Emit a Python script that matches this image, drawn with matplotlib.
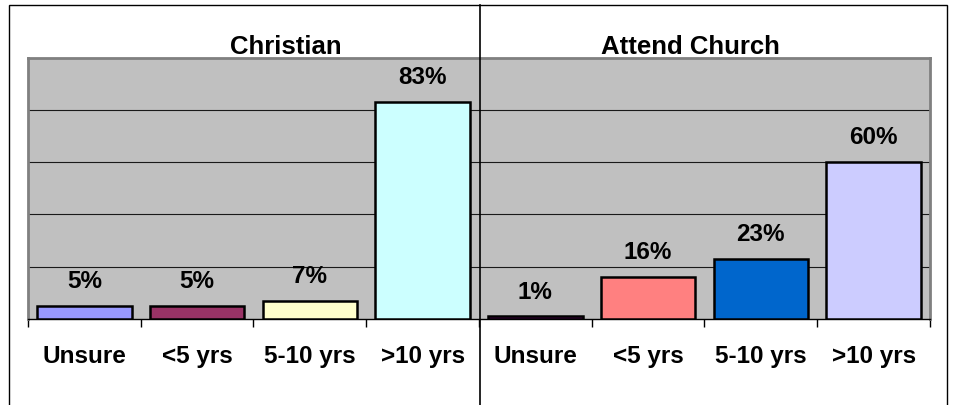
import matplotlib.pyplot as plt
from matplotlib.lines import Line2D
from matplotlib.patches import Rectangle

plt.rcParams['font.family'] = ['Liberation Sans', 'DejaVu Sans']

# data
groups = ['Christian', 'Attend Church']
categories = ['Unsure', '<5 yrs', '5-10 yrs', '>10 yrs']
christian = [5, 5, 7, 83]
attend = [1, 16, 23, 60]
colors = ['#9999FF', '#993366', '#FFFFCC', '#CCFFFF',
          '#660066', '#FF8080', '#0066CC', '#CCCCFF']

W, H = 954, 406
fig = plt.figure(figsize=(W / 100, H / 100), dpi=100)

# plot area in pixels: x 28..930, y 58.5..320
left, right, top, bottom = 28, 930, 58.5, 320
ax = fig.add_axes([left / W, 1 - bottom / H, (right - left) / W, (bottom - top) / H])
ax.set_facecolor('#C0C0C0')

values = christian + attend
labels = categories + categories
xs = list(range(len(values)))
ax.bar(xs, values, width=0.84, color=colors, edgecolor='black', linewidth=1.8, zorder=3)

for x, v in zip(xs, values):
    ax.annotate(f'{v}%', (x, v), xytext=(0, 13.5), textcoords='offset points',
                ha='center', va='baseline', fontsize=17.5, fontweight='bold')

ax.set_xlim(-0.5, len(values) - 0.5)
ax.set_ylim(0, 100)
ax.set_yticks([20, 40, 60, 80])
ax.yaxis.grid(True, color='#1a1a1a', linewidth=0.8, zorder=1)
ax.tick_params(axis='y', length=0, labelleft=False)

ax.set_xticks(xs)
ax.set_xticklabels(labels, fontsize=17.5, fontweight='bold')
ax.set_xticks([i - 0.5 for i in range(len(values) + 1)], minor=True)
ax.tick_params(axis='x', which='major', length=0, pad=18)
ax.tick_params(axis='x', which='minor', length=6, width=1, direction='out', color='black')

for side in ['left', 'top', 'right']:
    ax.spines[side].set_color('#808080')
    ax.spines[side].set_linewidth(2)
ax.spines['bottom'].set_color('black')
ax.spines['bottom'].set_linewidth(1)

# panel titles
fig.text(286 / W, 1 - 54 / H, groups[0], ha='center', va='baseline',
         fontsize=18.5, fontweight='bold')
fig.text(690 / W, 1 - 54 / H, groups[1], ha='center', va='baseline',
         fontsize=18.5, fontweight='bold')

# outer frame and divider between the two charts
fig.patches.append(Rectangle((9.5 / W, -0.1), (947.5 - 9.5) / W, 1.1 - 5.5 / H,
                             transform=fig.transFigure, fill=False,
                             edgecolor='black', linewidth=1))
fig.lines.append(Line2D([480 / W, 480 / W], [0, 1 - 5.5 / H],
                        transform=fig.transFigure, color='black', linewidth=1.2))

fig.savefig('out.png', dpi=100)
